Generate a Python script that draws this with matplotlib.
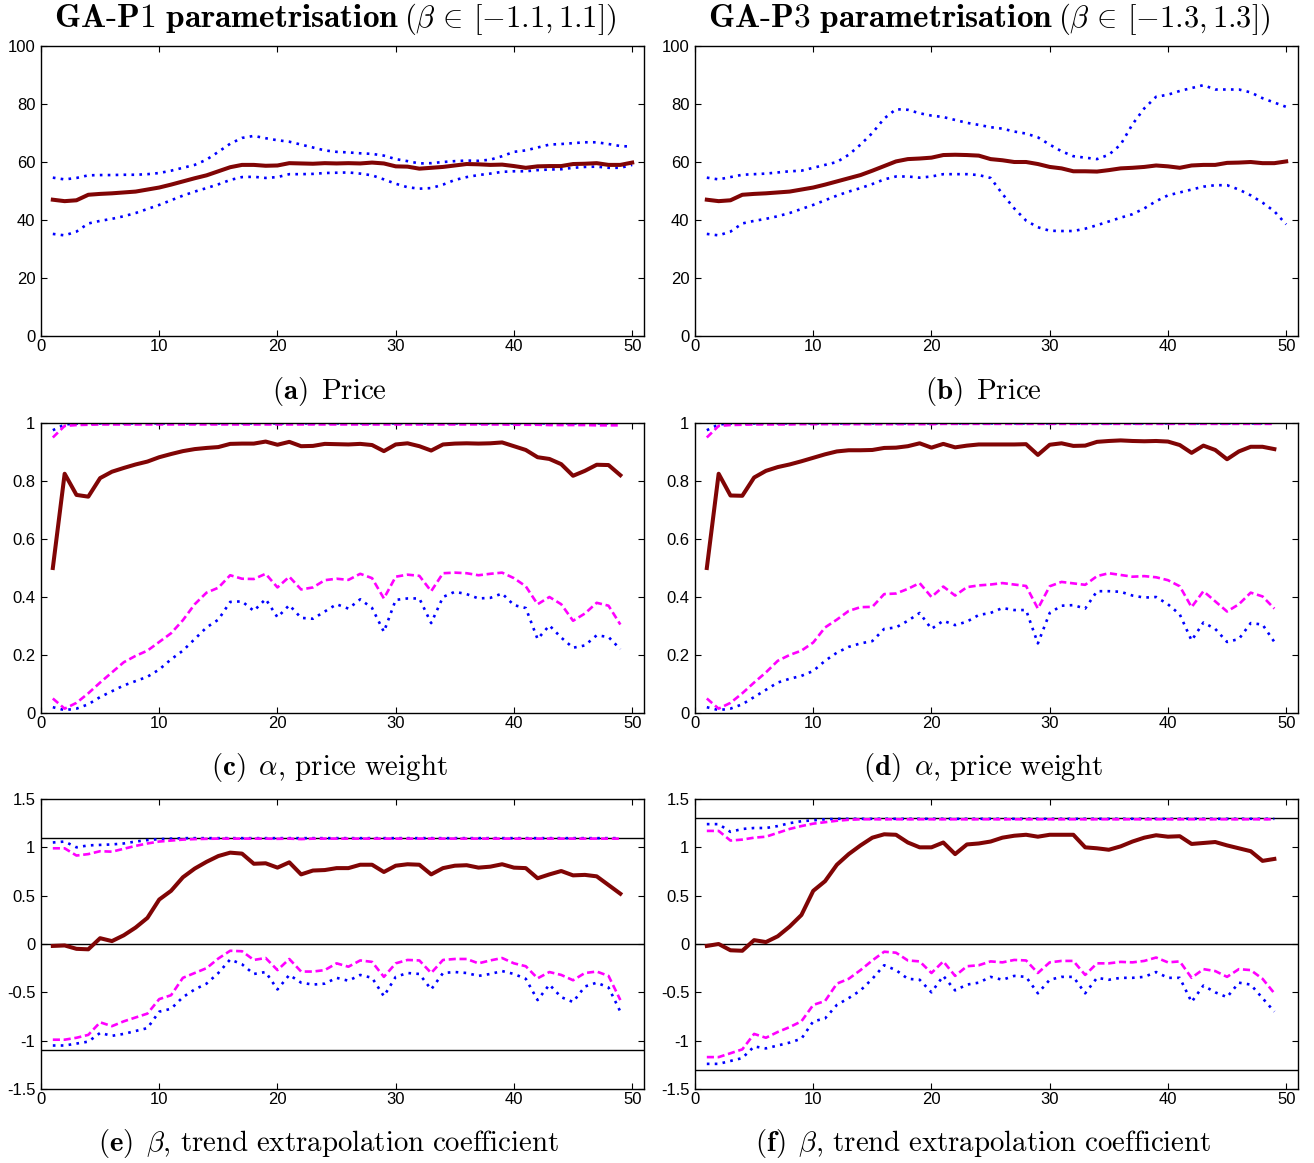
import numpy as np
import matplotlib
matplotlib.use('Agg')
import matplotlib.pyplot as plt
from matplotlib.ticker import FuncFormatter

plt.rcParams['mathtext.fontset'] = 'cm'
plt.rcParams['font.family'] = ['Liberation Sans', 'DejaVu Sans']
plt.rcParams['axes.unicode_minus'] = False

gen50 = np.arange(1, 51)
gen49 = np.arange(1, 50)

# ---- (a) price, GA-P1 ----
price_p1_mean = [47, 46.5, 46.8, 48.7, 49, 49.2, 49.5, 49.8, 50.5, 51.2,
                 52.2, 53.3, 54.4, 55.4, 56.8, 58.2, 59, 59, 58.7, 58.8,
                 59.6, 59.5, 59.4, 59.6, 59.5, 59.6, 59.5, 59.8, 59.5, 58.5,
                 58.4, 57.7, 58, 58.3, 58.8, 59.3, 59.2, 59, 59.1, 58.6,
                 58, 58.5, 58.6, 58.6, 59.3, 59.4, 59.6, 59, 59, 59.8]
price_p1_hi = [54.6, 54, 54.5, 55.4, 55.5, 55.5, 55.6, 55.6, 55.8, 56.2,
               57, 58, 59, 60.8, 63.5, 66.3, 68.3, 69, 68.2, 67.5,
               67, 66, 65, 64, 63.5, 63.3, 63, 62.8, 62.2, 61,
               60.3, 59.5, 59.6, 60, 60.3, 60.5, 60.4, 60.8, 62, 63.5,
               64, 65, 66, 66.2, 66.5, 66.8, 66.8, 66.2, 65.5, 65.3]
price_p1_lo = [35.2, 34.7, 36, 38.8, 39.7, 40.4, 41.3, 42.4, 43.8, 45.2,
               46.8, 48.4, 49.8, 51, 52.3, 53.8, 54.8, 54.9, 54.5, 54.8,
               55.8, 55.8, 55.9, 56.2, 56.3, 56.4, 56, 55.4, 54, 52.5,
               51.3, 50.8, 51, 52.2, 53.8, 54.8, 55.5, 56, 56.6, 56.8,
               56.8, 57.2, 57.4, 57.5, 58, 58.3, 58.4, 58, 58, 59]

# ---- (b) price, GA-P3 ----
price_p3_mean = [47, 46.5, 46.8, 48.7, 49, 49.2, 49.5, 49.8, 50.5, 51.2,
                 52.2, 53.3, 54.4, 55.5, 57, 58.6, 60.2, 61, 61.2, 61.5,
                 62.4, 62.5, 62.4, 62.2, 61, 60.6, 60, 60, 59.3, 58.3,
                 57.8, 56.8, 56.8, 56.7, 57.2, 57.8, 58, 58.3, 58.8, 58.5,
                 58, 58.8, 59, 59, 59.7, 59.8, 60, 59.6, 59.6, 60.2]
price_p3_hi = [54.6, 54, 54.8, 55.6, 55.8, 56, 56.4, 56.8, 57, 58,
               59, 60, 62.5, 66, 70, 75, 78.2, 78, 76.8, 76,
               75.5, 74.5, 73.5, 72.8, 72, 71.5, 70.5, 69.8, 68.5, 66,
               63.7, 62, 61.5, 61, 62.5, 66, 73, 78.5, 82.5, 83.2,
               84.5, 85.5, 86.5, 85, 85, 85, 84, 82, 80.5, 79]
price_p3_lo = [35.2, 34.7, 36, 38.8, 39.7, 40.4, 41.3, 42.4, 43.8, 45.2,
               46.8, 48.4, 49.8, 51, 52.4, 54, 55, 55, 54.6, 55,
               55.8, 55.8, 55.8, 55.5, 54.5, 49, 44, 39.8, 37.5, 36.3,
               36.2, 36.2, 37, 38.2, 39.5, 40.8, 42, 44, 46.5, 48.5,
               49.5, 50.5, 51.5, 52, 52, 50.5, 48.5, 46, 43, 38.5]

# ---- (c) alpha, GA-P1 ----
alpha_p1_mean = [0.50, 0.825, 0.752, 0.746, 0.81, 0.832, 0.845, 0.857, 0.867, 0.882,
                 0.893, 0.903, 0.91, 0.914, 0.917, 0.928, 0.929, 0.929, 0.936, 0.925,
                 0.935, 0.92, 0.921, 0.928, 0.927, 0.926, 0.928, 0.924, 0.903, 0.926,
                 0.93, 0.92, 0.905, 0.926, 0.929, 0.93, 0.929, 0.93, 0.933, 0.92,
                 0.907, 0.882, 0.876, 0.858, 0.818, 0.835, 0.856, 0.855, 0.82]
alpha_p1_max = [0.975, 0.995, 0.998, 0.998, 0.999, 0.999, 0.999, 0.999, 0.999, 0.999,
                0.999, 0.999, 0.999, 0.999, 0.999, 0.999, 0.999, 0.999, 0.999, 0.999,
                0.999, 0.999, 0.999, 0.999, 0.999, 0.999, 0.999, 0.999, 0.999, 0.999,
                0.999, 0.999, 0.999, 0.999, 0.999, 0.999, 0.999, 0.999, 0.999, 0.999,
                0.999, 0.999, 0.999, 0.999, 0.999, 0.999, 0.999, 0.999, 0.999]
alpha_p1_q95 = [0.95, 0.99, 0.993, 0.994, 0.995, 0.995, 0.995, 0.995, 0.995, 0.995,
                0.995, 0.995, 0.995, 0.995, 0.995, 0.995, 0.995, 0.995, 0.995, 0.995,
                0.995, 0.995, 0.995, 0.995, 0.995, 0.995, 0.995, 0.995, 0.995, 0.995,
                0.995, 0.995, 0.995, 0.995, 0.995, 0.995, 0.995, 0.995, 0.995, 0.994,
                0.994, 0.994, 0.993, 0.993, 0.993, 0.993, 0.992, 0.992, 0.992]
alpha_p1_q05 = [0.05, 0.015, 0.035, 0.068, 0.105, 0.14, 0.175, 0.197, 0.215, 0.245,
                0.275, 0.32, 0.375, 0.415, 0.432, 0.475, 0.463, 0.462, 0.48, 0.433,
                0.47, 0.426, 0.433, 0.458, 0.463, 0.459, 0.48, 0.465, 0.395, 0.47,
                0.477, 0.473, 0.42, 0.482, 0.484, 0.482, 0.475, 0.48, 0.484, 0.465,
                0.437, 0.375, 0.4, 0.375, 0.318, 0.343, 0.38, 0.37, 0.305]
alpha_p1_min = [0.02, 0.01, 0.015, 0.03, 0.055, 0.075, 0.095, 0.11, 0.125, 0.15,
                0.185, 0.215, 0.255, 0.295, 0.322, 0.383, 0.385, 0.352, 0.393, 0.33,
                0.372, 0.328, 0.325, 0.35, 0.375, 0.36, 0.392, 0.362, 0.28, 0.39,
                0.395, 0.395, 0.31, 0.4, 0.418, 0.41, 0.395, 0.397, 0.412, 0.372,
                0.362, 0.255, 0.302, 0.26, 0.225, 0.233, 0.268, 0.262, 0.22]

# ---- (d) alpha, GA-P3 ----
alpha_p3_mean = [0.50, 0.825, 0.75, 0.749, 0.812, 0.835, 0.848, 0.857, 0.868, 0.88,
                 0.892, 0.902, 0.906, 0.906, 0.907, 0.914, 0.915, 0.92, 0.93, 0.915,
                 0.928, 0.916, 0.922, 0.926, 0.926, 0.926, 0.926, 0.927, 0.89, 0.925,
                 0.93, 0.921, 0.922, 0.935, 0.938, 0.94, 0.938, 0.937, 0.938, 0.936,
                 0.924, 0.897, 0.922, 0.907, 0.875, 0.902, 0.918, 0.918, 0.91]
alpha_p3_max = [0.975, 0.995, 0.998, 0.998, 0.999, 0.999, 0.999, 0.999, 0.999, 0.999,
                0.999, 0.999, 0.999, 0.999, 0.999, 0.999, 0.999, 0.999, 0.999, 0.999,
                0.999, 0.999, 0.999, 0.999, 0.999, 0.999, 0.999, 0.999, 0.999, 0.999,
                0.999, 0.999, 0.999, 0.999, 0.999, 0.999, 0.999, 0.999, 0.999, 0.999,
                0.999, 0.999, 0.999, 0.999, 0.999, 0.999, 0.999, 0.999, 0.999]
alpha_p3_q95 = [0.95, 0.99, 0.993, 0.994, 0.995, 0.995, 0.995, 0.995, 0.996, 0.996,
                0.996, 0.996, 0.996, 0.996, 0.996, 0.996, 0.996, 0.996, 0.996, 0.996,
                0.997, 0.997, 0.997, 0.997, 0.997, 0.997, 0.997, 0.997, 0.997, 0.997,
                0.997, 0.997, 0.997, 0.997, 0.997, 0.997, 0.997, 0.997, 0.997, 0.997,
                0.997, 0.997, 0.997, 0.997, 0.997, 0.997, 0.997, 0.997, 0.997]
alpha_p3_q05 = [0.05, 0.015, 0.035, 0.068, 0.105, 0.14, 0.18, 0.2, 0.215, 0.243,
                0.295, 0.322, 0.352, 0.365, 0.366, 0.41, 0.412, 0.428, 0.448, 0.4,
                0.436, 0.405, 0.434, 0.44, 0.443, 0.448, 0.443, 0.438, 0.36, 0.437,
                0.452, 0.447, 0.442, 0.472, 0.482, 0.476, 0.47, 0.472, 0.468, 0.458,
                0.437, 0.365, 0.42, 0.385, 0.35, 0.375, 0.415, 0.402, 0.36]
alpha_p3_min = [0.02, 0.01, 0.015, 0.03, 0.055, 0.08, 0.105, 0.118, 0.128, 0.145,
                0.18, 0.208, 0.228, 0.24, 0.248, 0.29, 0.295, 0.318, 0.345, 0.29,
                0.318, 0.303, 0.315, 0.338, 0.345, 0.362, 0.355, 0.355, 0.24, 0.345,
                0.37, 0.372, 0.36, 0.42, 0.42, 0.418, 0.405, 0.398, 0.4, 0.375,
                0.34, 0.25, 0.312, 0.29, 0.245, 0.255, 0.31, 0.305, 0.245]

# ---- (e) beta, GA-P1 ----
beta_p1_bound = 1.1
beta_p1_mean = [-0.02, -0.015, -0.05, -0.055, 0.06, 0.03, 0.09, 0.17, 0.27, 0.46,
                0.55, 0.69, 0.78, 0.85, 0.91, 0.945, 0.935, 0.83, 0.835, 0.79,
                0.845, 0.72, 0.76, 0.765, 0.785, 0.785, 0.82, 0.82, 0.745, 0.81,
                0.825, 0.82, 0.72, 0.785, 0.81, 0.815, 0.79, 0.8, 0.825, 0.79,
                0.785, 0.68, 0.72, 0.755, 0.71, 0.715, 0.7, 0.61, 0.52]
beta_p1_max = [1.05, 1.06, 1.0, 1.02, 1.025, 1.03, 1.04, 1.06, 1.075, 1.085,
               1.09, 1.095, 1.095, 1.095, 1.095, 1.095, 1.095, 1.095, 1.095, 1.095,
               1.095, 1.095, 1.095, 1.095, 1.095, 1.095, 1.095, 1.095, 1.095, 1.095,
               1.095, 1.095, 1.095, 1.095, 1.095, 1.095, 1.095, 1.095, 1.095, 1.095,
               1.095, 1.095, 1.095, 1.095, 1.095, 1.095, 1.095, 1.095, 1.095]
beta_p1_q95 = [0.99, 0.99, 0.915, 0.93, 0.96, 0.955, 0.985, 1.015, 1.04, 1.06,
               1.07, 1.08, 1.085, 1.088, 1.09, 1.09, 1.09, 1.09, 1.09, 1.088,
               1.09, 1.085, 1.09, 1.09, 1.09, 1.09, 1.09, 1.09, 1.09, 1.09,
               1.09, 1.09, 1.09, 1.09, 1.09, 1.09, 1.09, 1.09, 1.09, 1.09,
               1.09, 1.09, 1.09, 1.09, 1.09, 1.09, 1.09, 1.09, 1.09]
beta_p1_q05 = [-0.99, -0.99, -0.97, -0.94, -0.81, -0.85, -0.8, -0.76, -0.72, -0.57,
               -0.53, -0.35, -0.3, -0.25, -0.15, -0.07, -0.075, -0.165, -0.145, -0.27,
               -0.155, -0.285, -0.285, -0.27, -0.2, -0.235, -0.17, -0.185, -0.34, -0.2,
               -0.165, -0.17, -0.3, -0.165, -0.155, -0.155, -0.2, -0.17, -0.145, -0.2,
               -0.23, -0.355, -0.29, -0.32, -0.375, -0.3, -0.285, -0.33, -0.58]
beta_p1_min = [-1.05, -1.05, -1.03, -1.01, -0.92, -0.95, -0.93, -0.9, -0.87, -0.7,
               -0.67, -0.55, -0.47, -0.41, -0.3, -0.16, -0.21, -0.31, -0.29, -0.47,
               -0.32, -0.4, -0.42, -0.41, -0.35, -0.38, -0.32, -0.35, -0.54, -0.34,
               -0.3, -0.31, -0.47, -0.3, -0.29, -0.3, -0.33, -0.31, -0.28, -0.31,
               -0.36, -0.58, -0.42, -0.55, -0.6, -0.44, -0.4, -0.45, -0.7]

# ---- (f) beta, GA-P3 ----
beta_p3_bound = 1.3
beta_p3_mean = [-0.02, 0.0, -0.065, -0.07, 0.04, 0.02, 0.08, 0.18, 0.3, 0.55,
                0.65, 0.82, 0.93, 1.02, 1.1, 1.135, 1.13, 1.05, 1.0, 1.0,
                1.05, 0.93, 1.03, 1.04, 1.06, 1.1, 1.12, 1.13, 1.11, 1.13,
                1.13, 1.13, 1.0, 0.99, 0.975, 1.01, 1.06, 1.1, 1.125, 1.11,
                1.115, 1.035, 1.045, 1.055, 1.02, 0.99, 0.96, 0.86, 0.88]
beta_p3_max = [1.24, 1.24, 1.16, 1.19, 1.2, 1.2, 1.22, 1.25, 1.27, 1.28,
               1.29, 1.295, 1.295, 1.295, 1.295, 1.295, 1.295, 1.295, 1.295, 1.295,
               1.295, 1.295, 1.295, 1.295, 1.295, 1.295, 1.295, 1.295, 1.295, 1.295,
               1.295, 1.295, 1.295, 1.295, 1.295, 1.295, 1.295, 1.295, 1.295, 1.295,
               1.295, 1.295, 1.295, 1.295, 1.295, 1.295, 1.295, 1.295, 1.295]
beta_p3_q95 = [1.17, 1.17, 1.07, 1.08, 1.1, 1.11, 1.15, 1.19, 1.22, 1.245,
               1.26, 1.275, 1.285, 1.29, 1.29, 1.29, 1.29, 1.29, 1.29, 1.29,
               1.29, 1.29, 1.29, 1.29, 1.29, 1.29, 1.29, 1.29, 1.29, 1.29,
               1.29, 1.29, 1.29, 1.29, 1.29, 1.29, 1.29, 1.29, 1.29, 1.29,
               1.29, 1.29, 1.29, 1.29, 1.29, 1.29, 1.29, 1.29, 1.29]
beta_p3_q05 = [-1.17, -1.17, -1.13, -1.09, -0.93, -0.97, -0.91, -0.86, -0.8, -0.63,
               -0.59, -0.41, -0.36, -0.27, -0.17, -0.08, -0.09, -0.17, -0.18, -0.3,
               -0.18, -0.33, -0.23, -0.22, -0.18, -0.19, -0.165, -0.17, -0.3, -0.19,
               -0.175, -0.175, -0.32, -0.2, -0.2, -0.185, -0.19, -0.175, -0.14, -0.19,
               -0.18, -0.35, -0.26, -0.28, -0.34, -0.26, -0.27, -0.36, -0.51]
beta_p3_min = [-1.24, -1.24, -1.21, -1.18, -1.06, -1.08, -1.05, -1.02, -0.98, -0.8,
               -0.77, -0.63, -0.56, -0.48, -0.36, -0.22, -0.27, -0.36, -0.37, -0.5,
               -0.33, -0.48, -0.42, -0.4, -0.34, -0.37, -0.33, -0.34, -0.51, -0.37,
               -0.34, -0.34, -0.51, -0.35, -0.37, -0.35, -0.35, -0.34, -0.29, -0.35,
               -0.35, -0.6, -0.43, -0.5, -0.55, -0.4, -0.42, -0.56, -0.7]

title_bold = [r"$\mathbf{GA\text{-}P1\ parametrisation}$",
              r"$\mathbf{GA\text{-}P3\ parametrisation}$"]
title_math = [r"$(\beta\,\in\,[-1.1, 1.1])$",
              r"$(\beta\,\in\,[-1.3, 1.3])$"]
captions = [[r"$\mathbf{(a)}\ \,\mathrm{Price}$", r"$\mathbf{(b)}\ \,\mathrm{Price}$"],
            [r"$\mathbf{(c)}\ \,\alpha,\,\mathrm{price\ weight}$",
             r"$\mathbf{(d)}\ \,\alpha,\,\mathrm{price\ weight}$"],
            [r"$\mathbf{(e)}\ \,\beta,\,\mathrm{trend\ extrapolation\ coefficient}$",
             r"$\mathbf{(f)}\ \,\beta,\,\mathrm{trend\ extrapolation\ coefficient}$"]]

DARKRED = (0.5, 0.02, 0.02)
BLUE = (0.0, 0.0, 1.0)
MAGENTA = (1.0, 0.0, 1.0)
DOT = (0, (1, 2))
DASH = (0, (2.7, 1.4))
LW_MEAN, LW_BAND = 2.9, 1.9

W, H = 1314, 1163
fig = plt.figure(figsize=(W / 100, H / 100), dpi=100)


def panel(left, top):
    ax = fig.add_axes([left / W, 1 - (top + 290) / H, 603 / W, 290 / H])
    for s in ax.spines.values():
        s.set_linewidth(1.0)
    ax.tick_params(direction='in', top=True, right=True, length=4.5, width=0.8,
                   labelsize=12)
    ax.tick_params(axis='x', pad=2.5)
    ax.tick_params(axis='y', pad=4)
    ax.set_xlim(0, 51)
    ax.set_xticks(range(0, 51, 10))
    ax.yaxis.set_major_formatter(FuncFormatter(lambda v, p: '%g' % v))
    return ax


def centred_pieces(cx, y, pieces, gap):
    # lay several text pieces side by side, centred on cx (pixels)
    r = fig.canvas.get_renderer()
    texts = [fig.text(0, 1 - y / H, s, fontsize=fs, ha='left', va='baseline')
             for s, fs in pieces]
    widths = [t.get_window_extent(r).width for t in texts]
    x = cx - (sum(widths) + gap * (len(texts) - 1)) / 2
    for t, w in zip(texts, widths):
        t.set_x(x / W)
        x += w + gap


lefts = [41, 695]
tops = [46, 423, 799]

price = [(price_p1_mean, price_p1_hi, price_p1_lo),
         (price_p3_mean, price_p3_hi, price_p3_lo)]
alpha = [(alpha_p1_mean, alpha_p1_max, alpha_p1_q95, alpha_p1_q05, alpha_p1_min),
         (alpha_p3_mean, alpha_p3_max, alpha_p3_q95, alpha_p3_q05, alpha_p3_min)]
beta = [(beta_p1_bound, beta_p1_mean, beta_p1_max, beta_p1_q95, beta_p1_q05, beta_p1_min),
        (beta_p3_bound, beta_p3_mean, beta_p3_max, beta_p3_q95, beta_p3_q05, beta_p3_min)]

for col in range(2):
    L = lefts[col]
    # price
    ax = panel(L, tops[0])
    m, hi, lo = price[col]
    ax.plot(gen50, hi, linestyle=DOT, color=BLUE, lw=LW_BAND)
    ax.plot(gen50, lo, linestyle=DOT, color=BLUE, lw=LW_BAND)
    ax.plot(gen50, m, '-', color=DARKRED, lw=LW_MEAN)
    ax.set_ylim(0, 100)
    ax.set_yticks(range(0, 101, 20))

    # alpha
    ax = panel(L, tops[1])
    m, mx, q95, q05, mn = alpha[col]
    ax.plot(gen49, mx, linestyle=DOT, color=BLUE, lw=LW_BAND)
    ax.plot(gen49, mn, linestyle=DOT, color=BLUE, lw=LW_BAND)
    ax.plot(gen49, q95, linestyle=DASH, color=MAGENTA, lw=LW_BAND)
    ax.plot(gen49, q05, linestyle=DASH, color=MAGENTA, lw=LW_BAND)
    ax.plot(gen49, m, '-', color=DARKRED, lw=LW_MEAN)
    ax.set_ylim(0, 1)
    ax.set_yticks([0, 0.2, 0.4, 0.6, 0.8, 1])

    # beta
    ax = panel(L, tops[2])
    b, m, mx, q95, q05, mn = beta[col]
    for yv in (b, 0, -b):
        ax.axhline(yv, color='black', lw=1.0)
    ax.plot(gen49, mx, linestyle=DOT, color=BLUE, lw=LW_BAND)
    ax.plot(gen49, mn, linestyle=DOT, color=BLUE, lw=LW_BAND)
    ax.plot(gen49, q95, linestyle=DASH, color=MAGENTA, lw=LW_BAND)
    ax.plot(gen49, q05, linestyle=DASH, color=MAGENTA, lw=LW_BAND)
    ax.plot(gen49, m, '-', color=DARKRED, lw=LW_MEAN)
    ax.set_ylim(-1.5, 1.5)
    ax.set_yticks([-1.5, -1, -0.5, 0, 0.5, 1, 1.5])

    cx = 329 + 654 * col
    centred_pieces(cx + 6, 27, [(title_bold[col], 24), (title_math[col], 22)], 5)
    for row, yc in enumerate([391, 768, 1144]):
        fig.text(cx / W, 1 - yc / H, captions[row][col], ha='center', va='center',
                 fontsize=20.8)

fig.savefig('out.png', dpi=100)
